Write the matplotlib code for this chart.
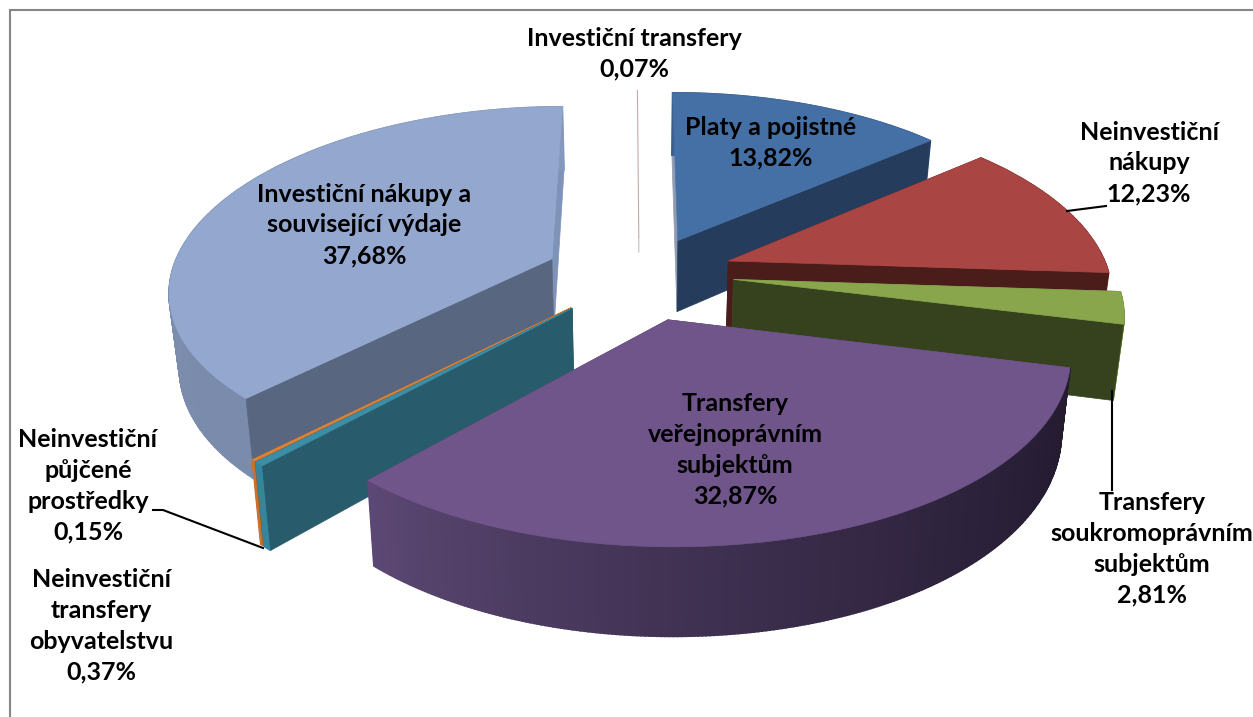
import numpy as np
import matplotlib
matplotlib.use("Agg")
import matplotlib.pyplot as plt
from matplotlib.colors import to_rgb

# pie data, clockwise from 12 o'clock
names = ["Platy a pojistné", "Neinvestiční\nnákupy", "Transfery\nsoukromoprávním\nsubjektům",
         "Transfery\nveřejnoprávním\nsubjektům", "Neinvestiční\ntransfery\nobyvatelstvu",
         "Neinvestiční\npůjčené\nprostředky", "Investiční nákupy a\nsouvisející výdaje",
         "Investiční transfery"]
values = [13.82, 12.23, 2.81, 32.87, 0.37, 0.15, 37.68, 0.07]
percent_labels = ["13,82%", "12,23%", "2,81%", "32,87%", "0,37%", "0,15%", "37,68%", "0,07%"]

top_colors = ["#4570a6", "#a94543", "#8aa64c", "#70558a", "#3c8ea6", "#d9823a", "#93a7cf", "#c9a8a8"]
start_face = ["#8f9bb0", "#4a1c1a", "#4f6030", "#4a3a60", "#285b6b", "#a0551c", "#59667f", "#c0c0c0"]
end_face = ["#263c5d", "#4a1c1a", "#36421e", "#4a3a60", "#285b6b", "#a0551c", "#7f93b8", "#c0c0c0"]
wall_from = ["#3a5f8c", "#80302e", "#7a9444", "#241b31", "#35869c", "#c9722c", "#7a8bab", "#c0c0c0"]
wall_to = ["#3a5f8c", "#80302e", "#7a9444", "#5c4874", "#35869c", "#c9722c", "#8598bd", "#c0c0c0"]

# projection settings
cx, cy = 639, 272
a, b = 380, 178
persp_x, persp_y = 0.16, 0.147
depth = 73
explode_x = 0.25
explode_back, explode_front = 0.2, 0.27


def project(X, Y, z=0):
    sx = 1 / (1 + persp_x * Y) * (1 - 0.0003 * z)
    sy = 1 / (1 + persp_y * Y)
    return cx + a * X * sx, cy - b * Y * sy + z * sy


fig = plt.figure(figsize=(12.53, 7.17), dpi=100)
ax = fig.add_axes([0, 0, 1, 1])
ax.set_xlim(0, 1253)
ax.set_ylim(717, 0)
ax.axis("off")

# chart frame, only left and top show
ax.plot([10, 10, 1253], [717, 10, 10], color="#868686", lw=1.5, solid_joinstyle="miter")

edges = np.radians(np.cumsum([0] + values) * 3.6)

# back slices first, purple on top
draw_order = [7, 0, 6, 1, 2, 5, 4, 3]
for i in draw_order:
    t0, t1 = edges[i], edges[i + 1]
    mid = (t0 + t1) / 2
    ex = explode_x * np.sin(mid)
    ey = np.cos(mid) * (explode_back if np.cos(mid) > 0 else explode_front)
    th = np.linspace(t0, t1, max(int(np.degrees(t1 - t0)) * 2, 4))
    rx = ex + np.sin(th)
    ry = ey + np.cos(th)
    tx, ty = project(rx, ry)
    bx, by = project(rx, ry, depth)
    px0, py0 = project(ex, ey)
    px1, py1 = project(ex, ey, depth)

    # the tiny slice is edge-on, just a hairline with a short stub
    if i == 7:
        ax.plot([tx[0], px0], [ty[0], py0], color=top_colors[i], lw=0.8, zorder=2)
        stub_x, stub_y = project(ex, ey, 15)
        ax.plot([px0, stub_x], [py0, stub_y], color=start_face[i], lw=0.8, zorder=2)
        continue

    start_poly = ([px0, tx[0], bx[0], px1], [py0, ty[0], by[0], py1], start_face[i])
    end_poly = ([px0, tx[-1], bx[-1], px1], [py0, ty[-1], by[-1], py1], end_face[i])
    # which cut face looks at the viewer
    hidden, shown = [], []
    (shown if np.sin(t0) < 0 else hidden).append(start_poly)
    (shown if np.sin(t1) > 0 else hidden).append(end_poly)

    for xs, ys, col in hidden:
        ax.fill(xs, ys, color=col, lw=0.5, zorder=2)

    # outer wall as small quads for the gradient
    c0, c1 = np.array(to_rgb(wall_from[i])), np.array(to_rgb(wall_to[i]))
    for j in range(len(th) - 1):
        f = (j / max(len(th) - 2, 1)) ** 1.5
        col = c0 + (c1 - c0) * f
        ax.fill([tx[j], tx[j + 1], bx[j + 1], bx[j]], [ty[j], ty[j + 1], by[j + 1], by[j]],
                color=col, lw=1.2, zorder=2)

    for xs, ys, col in shown:
        ax.fill(xs, ys, color=col, lw=0.5, zorder=2)

    # top
    ax.fill(np.r_[px0, tx], np.r_[py0, ty], color=top_colors[i], lw=0.5, zorder=2)

# labels
font = dict(family="Lato", fontsize=18, fontweight="bold", color="black", ha="center",
            va="center", linespacing=1.41, zorder=5)
label_pos = [(771, 143), (1149, 163), (1152, 549), (735, 450), (101, 626), (88, 486), (364, 225), (634, 54)]
for name, pct, (x, y) in zip(names, percent_labels, label_pos):
    ax.text(x, y, name + "\n" + pct, **font)

# leader lines
ax.plot([1067, 1106], [211, 206], color="black", lw=1.5, zorder=4)
ax.plot([1112, 1112], [391, 490], color="black", lw=1.5, zorder=4)
ax.plot([153, 163, 263], [510, 510, 548], color="black", lw=1.5, zorder=4)

fig.savefig("out.png", dpi=100)
